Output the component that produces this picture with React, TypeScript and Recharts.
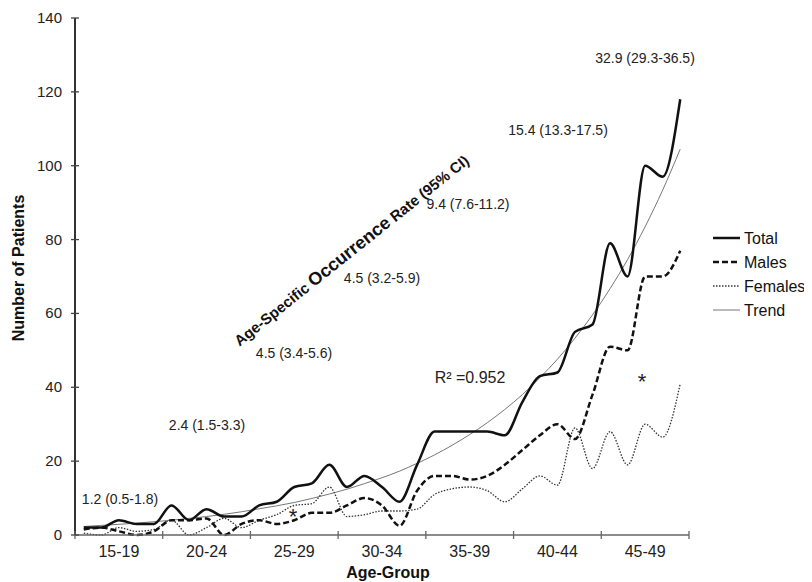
import { LineChart, Line, XAxis, YAxis, Customized } from 'recharts';

// one point per year of age, 15 to 49
const AGES = [
  15, 16, 17, 18, 19, 20, 21, 22, 23, 24, 25, 26, 27, 28, 29, 30, 31, 32,
  33, 34, 35, 36, 37, 38, 39, 40, 41, 42, 43, 44, 45, 46, 47, 48, 49,
];
const AGE_GROUPS = ['15-19', '20-24', '25-29', '30-34', '35-39', '40-44', '45-49'];

const TOTAL = [
  2, 2, 4, 3, 3, 8, 4, 7, 5, 5, 8, 9, 13, 14, 19, 13, 16, 13, 9, 19, 28, 28,
  28, 28, 27, 36, 43, 44, 55, 57, 79, 70, 100, 97, 118,
];
const MALES = [
  1.5, 2, 1, 0, 1, 4, 4, 4.5, 0, 3, 4, 3, 4, 6, 6, 8, 10, 8, 2.5, 12, 16, 16,
  15, 16, 19, 23, 27, 30, 26, 38, 51, 50, 70, 70, 77,
];
const FEMALES = [
  0.5, 0, 2, 1, 1.5, 4, 0, 2, 4.5, 2, 4, 5.5, 8, 8.5, 13, 5, 5.5, 6.5, 6.5, 7,
  11, 12.5, 13, 12, 9, 12.5, 16, 13.5, 29, 18, 28, 19, 30, 26.5, 41,
];
// exponential trend
const TREND = [
  2.3, 2.6, 2.9, 3.2, 3.6, 4.0, 4.5, 5.0, 5.6, 6.3, 7.1, 7.9, 8.8, 9.9, 11.1,
  12.4, 13.9, 15.5, 17.3, 19.4, 21.7, 24.3, 27.2, 30.4, 34.0, 38.0, 42.6, 47.6,
  53.3, 59.6, 66.7, 74.6, 83.5, 93.4, 104.5,
];

const RATES = [
  '1.2 (0.5-1.8)',
  '2.4 (1.5-3.3)',
  '4.5 (3.4-5.6)',
  '4.5 (3.2-5.9)',
  '9.4 (7.6-11.2)',
  '15.4 (13.3-17.5)',
  '32.9 (29.3-36.5)',
];

const X_TICKS = [14.5, 19.5, 24.5, 29.5, 34.5, 39.5, 44.5, 49.5];
const Y_TICKS = [0, 20, 40, 60, 80, 100, 120, 140];

const data = AGES.map((age, i) => ({
  age,
  total: TOTAL[i],
  males: MALES[i],
  females: FEMALES[i],
  trend: TREND[i],
}));

const FONT = 'Arial, "Liberation Sans", sans-serif';
const W = 804;
const H = 574;
const MARGIN = { top: 10, right: 123, bottom: 17, left: 7 };
const PLOT_W = W - MARGIN.left - MARGIN.right - 60;
const HALF_GROUP = (PLOT_W / 35) * 2.5;

const XTick = (props: any) => {
  const { x, y, payload } = props;
  const idx = Math.round((payload.value - 14.5) / 5);
  return (
    <g>
      <line x1={x} x2={x} y1={y - 4} y2={y + 4} stroke="#666" strokeWidth={1.3} />
      {idx < AGE_GROUPS.length && (
        <text x={x + HALF_GROUP} y={y + 22} textAnchor="middle" fontSize={16} fill="#222" fontFamily={FONT}>
          {AGE_GROUPS[idx]}
        </text>
      )}
    </g>
  );
};

const YTick = (props: any) => {
  const { x, y, payload } = props;
  return (
    <g>
      <line x1={x - 4} x2={x + 4} y1={y} y2={y} stroke="#444" strokeWidth={1.3} />
      <text x={x - 13} y={y + 5} textAnchor="end" fontSize={15} fill="#222" fontFamily={FONT}>
        {payload.value}
      </text>
    </g>
  );
};

// positions of the rate labels (svg px)
const RATE_POS = [
  [112, 496],
  [199, 422],
  [286, 350],
  [374, 275],
  [460, 201],
  [550, 127],
  [637, 55],
];

const LEGEND = [
  { name: 'Total', dash: undefined, width: 2.5, color: '#111' },
  { name: 'Males', dash: '6 3', width: 2.5, color: '#111' },
  { name: 'Females', dash: '1.5 1.5', width: 1.3, color: '#333' },
  { name: 'Trend', dash: undefined, width: 1, color: '#777' },
];

const Annotations = () => (
  <g fontFamily={FONT}>
    {RATES.map((r, i) => (
      <text key={r} x={RATE_POS[i][0]} y={RATE_POS[i][1]} textAnchor="middle" fontSize={14} fill="#222">
        {r}
      </text>
    ))}
    <text
      x={343}
      y={242}
      textAnchor="middle"
      dominantBaseline="central"
      fontWeight="bold"
      fill="#111"
      transform="rotate(-38.6 343 242)"
    >
      <tspan fontSize={15}>Age-Specific </tspan>
      <tspan fontSize={18}>Occurrence</tspan>
      <tspan fontSize={15}> Rate (95% CI)</tspan>
    </text>
    <text x={462} y={375} textAnchor="middle" fontSize={16} fill="#222">
      R² =0.952
    </text>
    <text x={285} y={516} textAnchor="middle" fontSize={22} fill="#222">*</text>
    <text x={634} y={381} textAnchor="middle" fontSize={22} fill="#222">*</text>
    <text x={16} y={260} textAnchor="middle" fontSize={16} fontWeight="bold" fill="#111" transform="rotate(-90 16 260)">
      Number of Patients
    </text>
    <text x={380} y={570} textAnchor="middle" fontSize={16} fontWeight="bold" fill="#111">
      Age-Group
    </text>
    {LEGEND.map((l, i) => (
      <g key={l.name}>
        <line
          x1={705}
          x2={732}
          y1={230 + i * 24}
          y2={230 + i * 24}
          stroke={l.color}
          strokeWidth={l.width}
          strokeDasharray={l.dash}
        />
        <text x={736} y={236 + i * 24} fontSize={16} fill="#111">
          {l.name}
        </text>
      </g>
    ))}
  </g>
);

export default function App() {
  return (
    <LineChart width={W} height={H} data={data} margin={MARGIN}>
      <XAxis
        type="number"
        dataKey="age"
        domain={[14.5, 49.5]}
        ticks={X_TICKS}
        tick={XTick}
        tickLine={false}
        tickSize={0}
        tickMargin={0}
        height={30}
        axisLine={{ stroke: '#666', strokeWidth: 1.5 }}
      />
      <YAxis
        domain={[0, 140]}
        ticks={Y_TICKS}
        tick={YTick}
        tickLine={false}
        tickSize={0}
        tickMargin={0}
        width={60}
        axisLine={{ stroke: '#333', strokeWidth: 2 }}
      />
      <Line type="monotone" dataKey="trend" stroke="#777" strokeWidth={1} dot={false} isAnimationActive={false} />
      <Line
        type="monotone"
        dataKey="females"
        stroke="#333"
        strokeWidth={1.3}
        strokeDasharray="1.5 1.5"
        dot={false}
        isAnimationActive={false}
      />
      <Line
        type="monotone"
        dataKey="males"
        stroke="#111"
        strokeWidth={2.5}
        strokeDasharray="6 3"
        dot={false}
        isAnimationActive={false}
      />
      <Line type="monotone" dataKey="total" stroke="#111" strokeWidth={2.5} dot={false} isAnimationActive={false} />
      <Customized component={Annotations} />
    </LineChart>
  );
}
